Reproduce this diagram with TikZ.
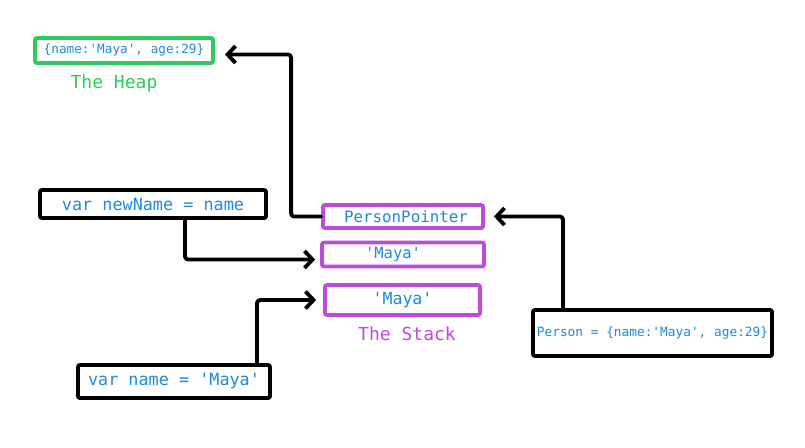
\documentclass[tikz,border=0pt]{standalone}
\usepackage{fontspec}
\setmonofont{DejaVu Sans Mono}
\usetikzlibrary{arrows.meta}
\definecolor{codeblue}{HTML}{1E88E5}
\definecolor{heapgreen}{HTML}{2FCB5C}
\definecolor{stackpurple}{HTML}{BE4BDB}
\tikzset{
  box/.style={draw=black, line width=3.8pt, rounded corners=2pt, inner sep=0pt,
    text=codeblue, font=\ttfamily},
  heapbox/.style={box, draw=heapgreen},
  stackbox/.style={box, draw=stackpurple},
  arr/.style={draw=black, line width=3.8pt, line cap=round, line join=round,
    rounded corners=3pt, -{Straight Barb[length=8pt,width=17pt,line width=3.8pt]}},
  lbl/.style={inner sep=0pt, font=\ttfamily\fontsize{18}{20}\selectfont}
}
\begin{document}
\begin{tikzpicture}[x=1pt,y=-1pt]
\useasboundingbox[fill=white] (0,0) rectangle (805,447);
% heap
\node[heapbox, minimum width=178pt, minimum height=25pt, font=\ttfamily\fontsize{12.7}{14}\selectfont] (heap) at (124,50.5) {\{name:'Maya', age:29\}};
\node[lbl, text=heapgreen] (heaplbl) at (114,84) {The Heap};
% stack
\node[stackbox, minimum width=160pt, minimum height=23pt, font=\ttfamily\fontsize{15.8}{18}\selectfont] (pp) at (403,216.5) {\hspace{6pt}PersonPointer};
\node[stackbox, minimum width=162pt, minimum height=24pt, font=\ttfamily\fontsize{15.5}{18}\selectfont] (m1) at (403,254.5) {'Maya'\hspace*{20pt}};
\node[stackbox, minimum width=155pt, minimum height=30pt, font=\ttfamily\fontsize{16.6}{19}\selectfont] (m2) at (402.5,300) {'Maya'};
\node[lbl, text=stackpurple] (stacklbl) at (407,334) {The Stack};
% variables
\node[box, minimum width=226pt, minimum height=28pt, font=\ttfamily\fontsize{16.8}{19}\selectfont] (nn) at (153,204) {var newName = name};
\node[box, minimum width=192pt, minimum height=33pt, font=\ttfamily\fontsize{16.8}{19}\selectfont] (vn) at (174,381.5) {var name = 'Maya'};
\node[box, minimum width=239pt, minimum height=46pt, font=\ttfamily\fontsize{12.8}{14}\selectfont] (pe) at (652.5,333) {Person = \{name:'Maya', age:29\}};
% connectors
\draw[arr] (pp.west) -- ++(-30,0) |- ([xshift=10pt,yshift=-4pt]heap.east);
\draw[arr] ([xshift=32pt]nn.south) |- ([xshift=-5pt,yshift=-5pt]m1.west);
\draw[arr] ([xshift=83pt]vn.north) |- ([xshift=-7pt]m2.west);
\draw[arr] ([xshift=-89.5pt]pe.north) |- ([xshift=9pt]pp.east);
\end{tikzpicture}
\end{document}
